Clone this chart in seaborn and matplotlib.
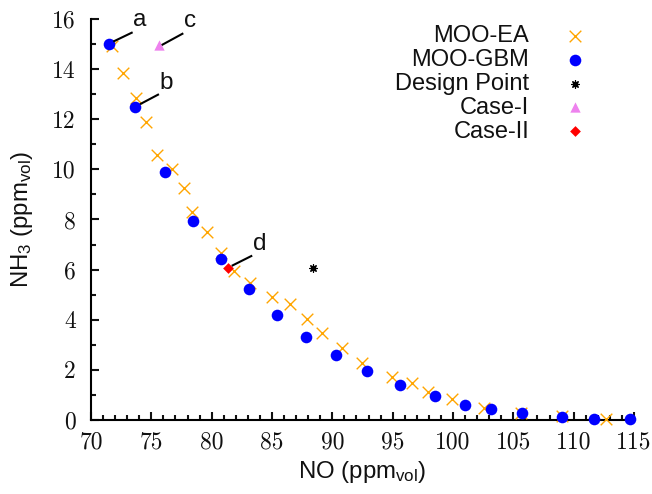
import matplotlib
matplotlib.use("Agg")
import matplotlib.pyplot as plt
import pandas as pd
import seaborn as sns

# Pareto fronts: NO vs NH3 slip (ppm_vol)
ea_no = [71.7, 72.68, 73.73, 74.56, 75.5, 76.74, 77.68, 78.34, 79.58, 80.75,
         81.88, 83.17, 84.97, 86.49, 87.92, 89.14, 90.82, 92.48, 94.96, 96.6,
         97.95, 99.9, 102.6, 105.6, 109.05, 112.67]
ea_nh3 = [14.92, 13.83, 12.84, 11.88, 10.57, 10.0, 9.25, 8.29, 7.49, 6.65,
          5.96, 5.48, 4.9, 4.62, 4.04, 3.46, 2.86, 2.29, 1.73, 1.48,
          1.12, 0.84, 0.49, 0.29, 0.16, 0.03]

gbm_no = [71.47, 73.65, 76.13, 78.48, 80.77, 83.09, 85.41, 87.81, 90.27, 92.84,
          95.6, 98.5, 101.01, 103.14, 105.71, 109.05, 111.7, 114.66]
gbm_nh3 = [14.99, 12.50, 9.88, 7.94, 6.42, 5.22, 4.19, 3.32, 2.59, 1.94,
           1.40, 0.95, 0.61, 0.43, 0.27, 0.11, 0.04, 0.03]

design_no = [88.37]
design_nh3 = [6.05]
case1_no = [75.63]
case1_nh3 = [14.96]
case2_no = [81.38]
case2_nh3 = [6.08]

x_ticks = [70, 75, 80, 85, 90, 95, 100, 105, 110, 115]
y_ticks = [0, 2, 4, 6, 8, 10, 12, 14, 16]

# point labels: name, leader line (from, to), label position
point_labels = ["a", "b", "c", "d"]
leader_from = [(71.85, 15.10), (74.06, 12.60), (75.86, 14.96), (81.66, 6.15)]
leader_to = [(73.45, 15.47), (75.63, 13.00), (77.65, 15.43), (83.36, 6.56)]
label_pos = [(74.0, 15.72), (76.21, 13.20), (78.2, 15.67), (83.95, 6.78)]

sns.set_style("ticks")
plt.rcParams.update({
    "font.family": ["Liberation Sans", "DejaVu Sans"],
    "mathtext.fontset": "custom",
    "mathtext.rm": "Liberation Sans",
    "mathtext.it": "Liberation Sans:italic",
    "axes.linewidth": 1.5,
    "text.color": "#111111",
    "axes.labelcolor": "#111111",
    "xtick.color": "#111111",
    "ytick.color": "#111111",
    "axes.edgecolor": "black",
})

ea = pd.DataFrame({"NO": ea_no, "NH3": ea_nh3})
gbm = pd.DataFrame({"NO": gbm_no, "NH3": gbm_nh3})
design = pd.DataFrame({"NO": design_no, "NH3": design_nh3})
case1 = pd.DataFrame({"NO": case1_no, "NH3": case1_nh3})
case2 = pd.DataFrame({"NO": case2_no, "NH3": case2_nh3})

fig = plt.figure(figsize=(6.52, 4.94), dpi=100)
ax = fig.add_axes([91 / 652, 1 - 420 / 494, 543 / 652, 401 / 494])

common = dict(ax=ax, clip_on=False, zorder=5)
sns.scatterplot(data=ea, x="NO", y="NH3", marker="x", color="#FFA500",
                s=70, linewidth=1.0, label="MOO-EA", **common)
sns.scatterplot(data=gbm, x="NO", y="NH3", marker="o", color="#0000FF",
                s=70, linewidth=0, label="MOO-GBM", **common)
sns.scatterplot(data=design, x="NO", y="NH3", marker=(8, 2, 0), color="black",
                s=28, linewidth=0.9, label="Design Point", **common)
sns.scatterplot(data=case1, x="NO", y="NH3", marker="^", color="#EE82EE",
                s=55, linewidth=0, label="Case-I", **common)
sns.scatterplot(data=case2, x="NO", y="NH3", marker="D", color="#FF0000",
                s=30, linewidth=0, label="Case-II", **common)

for name, p0, p1, pt in zip(point_labels, leader_from, leader_to, label_pos):
    ax.plot([p0[0], p1[0]], [p0[1], p1[1]], color="black", lw=1.5,
            solid_capstyle="butt", zorder=6, clip_on=False)
    ax.text(pt[0], pt[1], name, ha="center", va="baseline", fontsize=17.5)

ax.set_xlim(70, 115)
ax.set_ylim(0, 16)
ax.set_xticks(x_ticks)
ax.set_yticks(y_ticks)
ax.set_xticks(range(70, 116), minor=True)
ax.set_yticks(range(0, 17), minor=True)
ax.tick_params(which="major", direction="in", length=6, width=1.5,
               labelsize=17)
ax.tick_params(which="minor", direction="in", length=3.5, width=1.5)
for lab in ax.get_xticklabels() + ax.get_yticklabels():
    lab.set_fontfamily("cmr10")
ax.tick_params(axis="x", pad=8)
ax.tick_params(axis="y", pad=11)

sns.despine(ax=ax)

ax.set_xlabel(r"NO (ppm$_\mathrm{vol}$)", fontsize=17.3)
ax.set_ylabel(r"NH$_\mathrm{3}$ (ppm$_\mathrm{vol}$)", fontsize=17.3)
ax.xaxis.label.set_va("center")
ax.yaxis.label.set_va("center")
ax.xaxis.set_label_coords(0.5, (420 - 472) / 401)
ax.yaxis.set_label_coords((22 - 91) / 543, 0.5)

leg = ax.legend(loc="upper right", bbox_to_anchor=(599 / 652, 1 - 25 / 494),
                bbox_transform=fig.transFigure, frameon=False,
                markerfirst=False, fontsize=17, handlelength=2.0,
                handletextpad=0.95, labelspacing=0.08, borderpad=0,
                borderaxespad=0)

fig.savefig("out.png", dpi=100)
